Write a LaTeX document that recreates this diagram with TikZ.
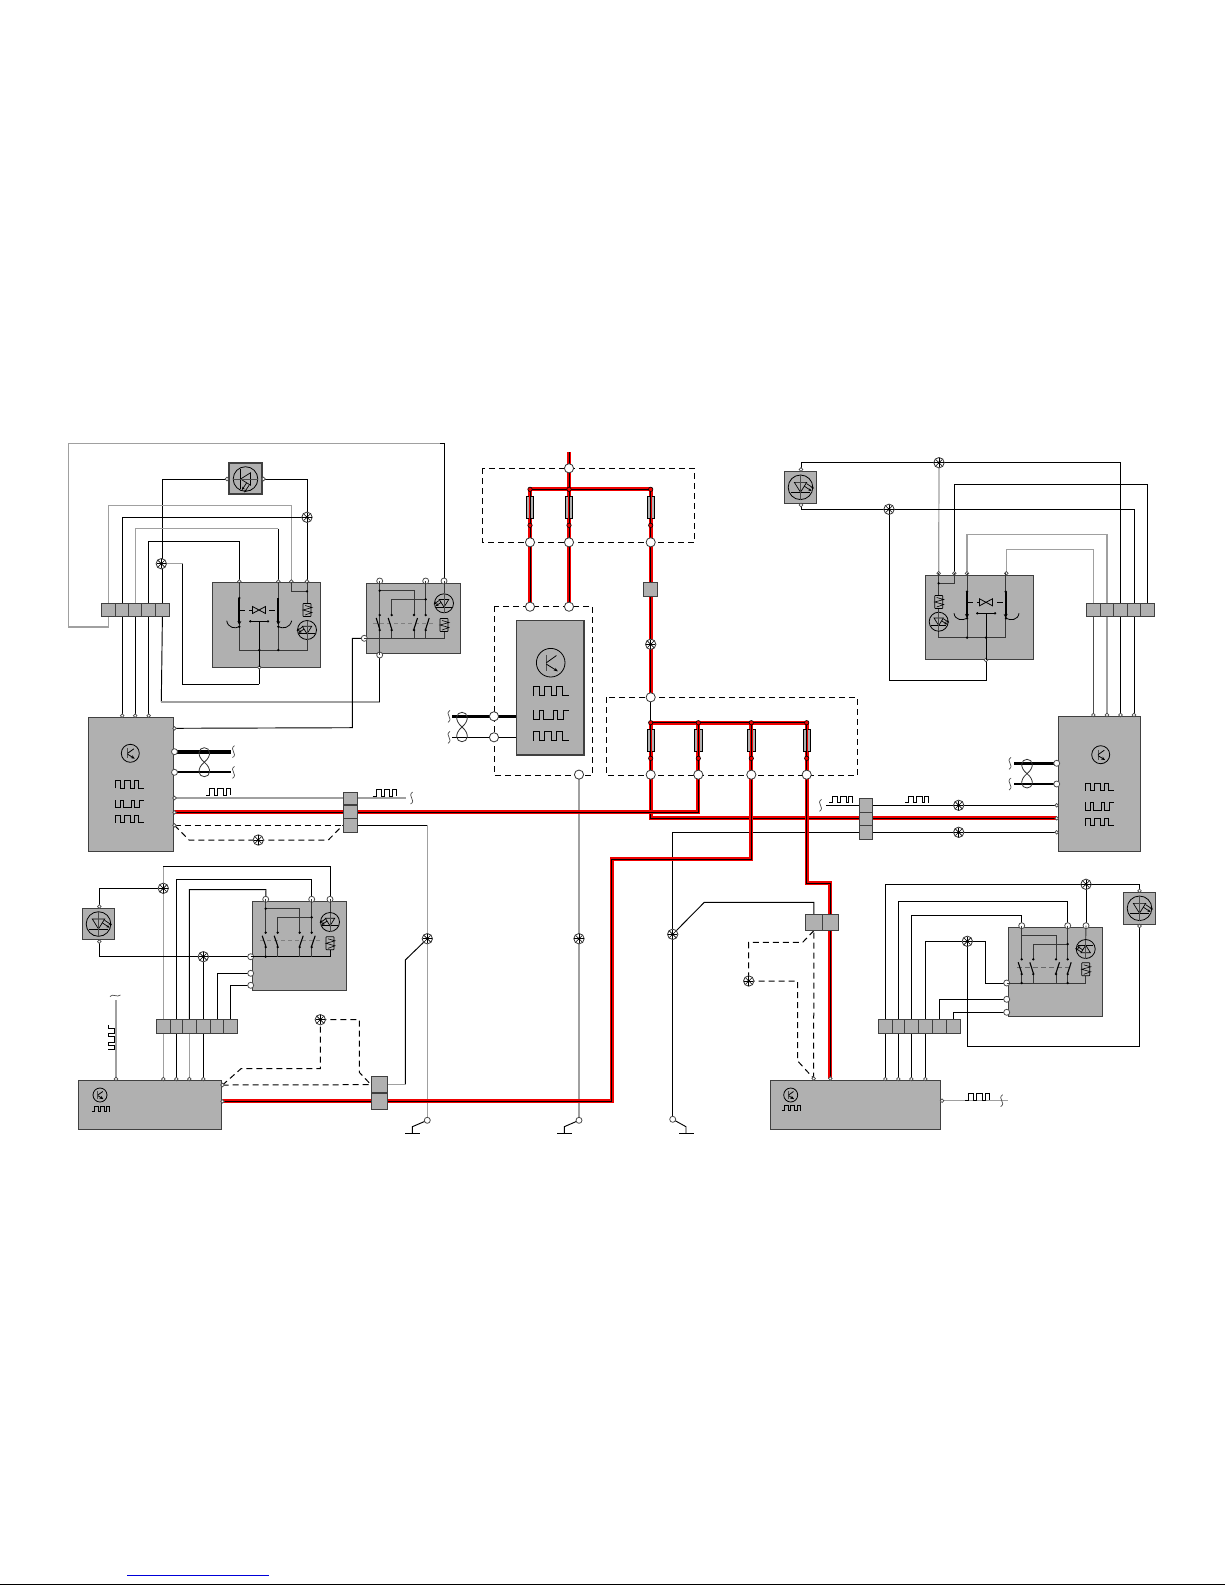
\documentclass[tikz,border=0pt]{standalone}
\usetikzlibrary{arrows.meta,calc}
\pgfdeclarelayer{bg}
\pgfsetlayers{bg,main}
\definecolor{boxg}{HTML}{B0B0B0}
\definecolor{wireg}{HTML}{A0A0A0}
\definecolor{redw}{HTML}{F00000}
\tikzset{
  wb/.style={line width=0.47pt,black},
  wi/.style={line width=0.45pt,black!78},
  wg/.style={line width=0.6pt,wireg},
  wd/.style={line width=0.5pt,black,dash pattern=on 3pt off 2pt},
  wr/.style={line width=2pt,redw},
  wc/.style={line width=0.45pt,black},
  wthick/.style={line width=1.8pt,black},
  wmed/.style={line width=1pt,black},
  sym/.style={line width=0.4pt,black},
  dbox/.style={line width=0.5pt,black,dash pattern=on 3pt off 2pt},
  graybox/.style={draw=black!75,line width=0.55pt,fill=boxg,inner sep=0pt,outer sep=0pt},
  pinS/.style={circle,draw=black!70,fill=white,line width=0.35pt,minimum size=1.8pt,inner sep=0pt},
  pinM/.style={circle,draw=black!70,fill=white,line width=0.4pt,minimum size=3pt,inner sep=0pt},
  pinL/.style={circle,draw=black!80,fill=white,line width=0.4pt,minimum size=4.6pt,inner sep=0pt},
  dotn/.style={circle,fill=black,minimum size=1.3pt,inner sep=0pt},
  rdot/.style={circle,fill=redw,draw=black,line width=0.3pt,minimum size=2.2pt,inner sep=0pt},
  splicen/.style={circle,draw=black!80,fill=white,line width=0.4pt,minimum size=5.2pt,inner sep=0pt},
  fuseb/.style={draw=black,line width=0.45pt,fill=boxg,inner sep=0pt,outer sep=0pt},
}
\newcommand\bx[5]{\pgfmathsetmacro\bxw{(#4-#2)*0.5}\pgfmathsetmacro\bxh{(#5-#3)*0.5}%
  \node[graybox,minimum width=\bxw pt,minimum height=\bxh pt] (#1) at ({(#2+#4)/2},{(#3+#5)/2}) {};}
\newcommand\splice[3]{\node[splicen] (#1) at (#2,#3) {};
  \foreach \a in {0,45,...,315}{\draw[line width=0.3pt] (#1.center)--+(\a:4.6);}
  \node[circle,fill=black,minimum size=1.4pt,inner sep=0pt] at (#1.center) {};}
\newcommand\pinS[3]{\node[pinS] (#1) at (#2,#3) {};}
\newcommand\pinM[3]{\node[pinM] (#1) at (#2,#3) {};}
\newcommand\pinL[3]{\node[pinL] (#1) at (#2,#3) {};}
\newcommand\redwire[1]{\draw[wr] #1; \draw[wc] #1;}
% square waves, w x h box with top-left x,y
\newcommand\wva[4]{\begin{scope}[shift={(#1,#2)},xscale=#3/7,yscale=#4]
  \draw[sym] (0,1)--(0,0)--(1.3,0)--(1.3,1)--(2.3,1)--(2.3,0)--(3.7,0)--(3.7,1)--(4.6,1)--(4.6,0)--(5.7,0)--(5.7,1)--(7,1);\end{scope}}
\newcommand\wvb[4]{\begin{scope}[shift={(#1,#2)},xscale=#3/7,yscale=#4]
  \draw[sym] (0,0)--(0,1)--(1.2,1)--(1.2,0)--(2.1,0)--(2.1,1)--(4,1)--(4,0)--(4.8,0)--(4.8,1)--(6,1)--(6,0)--(7,0);\end{scope}}
\newcommand\wvc[4]{\begin{scope}[shift={(#1,#2)},xscale=#3/7,yscale=#4]
  \draw[line width=0.35pt] (0,1)--(1,1)--(1,0)--(2.5,0)--(2.5,1)--(3.3,1)--(3.3,0)--(5,0)--(5,1)--(5.8,1)--(5.8,0)--(7,0)--(7,1);\end{scope}}
\newcommand\squig[2]{\draw[line width=0.35pt,black!70] (#1+1,#2-6) .. controls (#1-5,#2-2) and (#1+5,#2+2) .. (#1-1,#2+6);}
\newcommand\twist[3]{\draw[line width=0.4pt,black!80] ($(#1,#2)!0.5!(#1,#3)$) .. controls (#1+8,#2+8) and (#1+6,#2) .. (#1,#2) .. controls (#1-6,#2) and (#1-8,#2+8) .. ($(#1,#2)!0.5!(#1,#3)$) .. controls (#1+8,#3-8) and (#1+6,#3) .. (#1,#3) .. controls (#1-6,#3) and (#1-8,#3-8) .. ($(#1,#2)!0.5!(#1,#3)$);}
\newcommand\trans[3]{\begin{scope}[shift={(#1,#2)}]
  \draw[sym] (0,0) circle[radius=#3];
  \begin{scope}[scale=#3/10]
  \draw[line width=0.5pt,black!70] (-3,-5.5)--(-3,5.5);
  \draw[sym] (-3,0)--(4,-5);
  \draw[sym,-{Stealth[length=2pt,width=1.6pt]}] (-3,1)--(5,6);
  \end{scope}\end{scope}}
\newcommand\led[4]{\begin{scope}[shift={(#1,#2)},#4]
  \draw[sym] (0,0) circle[radius=#3];
  \begin{scope}[scale=#3/10]
  \draw[line width=0.35pt] (-5,-4)--(5,-4)--(0,4)--cycle;
  \draw[line width=0.35pt] (-8,4)--(8,4);
  \draw[line width=0.35pt,black!70] (0,-10)--(0,10);
  \draw[line width=0.35pt,-{Stealth[length=1.6pt,width=1.3pt]}] (3,-1)--(9,3);
  \draw[line width=0.35pt,-{Stealth[length=1.6pt,width=1.3pt]}] (5,-3)--(11,1);
  \end{scope}\end{scope}}
\newcommand\coil[2]{\begin{scope}[shift={(#1,#2)}]
  \draw[line width=0.35pt,fill=boxg,rounded corners=0.3pt] (-4,-6.5) rectangle (4,6.5);
  \draw[line width=0.3pt] (-2,-4.5)--(5,-2.5)--(-4,0)--(5,2.5)--(-2,5);
  \end{scope}}
\newcommand\sw[4]{\node[dotn] at (#1,#2) {};
  \node[dotn] at (#1,#3) {};
  \draw[line width=0.55pt,black] (#1+#4*3.5,#2+3)--(#1,#3-1);}
\newcommand\vbow[2]{\draw[sym,fill=boxg] (#1-6.5,#2-3.5)--(#1+6.5,#2+3.5)--(#1+6.5,#2-3.5)--(#1-6.5,#2+3.5)--cycle;}
\begin{document}
\begin{tikzpicture}[x=0.5pt,y=-0.5pt]
\useasboundingbox (0,0) rectangle (1225,1585);
% ---------- footer
\coordinate (ftA) at (127,1575.8); \coordinate (ftB) at (269,1575.8);
\draw[line width=0.55pt,blue!85!black] (ftA)--(ftB);
\coordinate (ftC) at (0,1584.3); \coordinate (ftD) at (1225,1584.3);
\draw[line width=0.7pt,black] (ftC)--(ftD);

% ---------- dashed enclosures
\draw[dbox] (482.3,468.3) rectangle (694.7,542.3);
\draw[dbox] (494.3,606.3) rectangle (592.7,775.3);
\draw[dbox] (606.3,697.3) rectangle (857.7,775.3);

% ---------- gray modules
\bx{ecuA}{88.3}{717.3}{173.3}{851.7}
\bx{ecuB}{1058.3}{716.3}{1140.7}{851.7}
\bx{ecuC}{78.7}{1080.3}{221.7}{1129.3}
\bx{ecuD}{770.3}{1080.3}{940.7}{1129.3}
\bx{cem}{516.3}{620.3}{584}{755}
\bx{swA}{212.7}{582.3}{320.3}{667.3}
\bx{swB}{925.3}{575.3}{1033.7}{659.3}
\bx{wiA}{366.7}{583.3}{460.7}{653.3}
\bx{wiB}{252.7}{901.3}{346.3}{990.3}
\bx{wiC}{1008.7}{927.7}{1102.3}{1016.7}
\bx{ledA}{229}{463}{262}{494}
\bx{ledB}{784.3}{471.3}{816.7}{503.3}
\bx{ledC}{82.3}{908.3}{114.7}{939.7}
\bx{ledD}{1123.3}{892.3}{1155.7}{924.3}
% connector strips
\bx{la}{101.3}{603.3}{115.7}{616.7}\bx{lb}{115.7}{603.3}{128.7}{616.7}\bx{lc}{128.7}{603.3}{141.7}{616.7}\bx{ld}{141.7}{603.3}{155.7}{616.7}\bx{le}{155.7}{603.3}{169.3}{616.7}
\bx{ra}{1086.3}{603.3}{1100.3}{616.7}\bx{rb}{1100.3}{603.3}{1113.7}{616.7}\bx{rc}{1113.7}{603.3}{1127.3}{616.7}\bx{rd}{1127.3}{603.3}{1140.7}{616.7}\bx{re}{1140.7}{603.3}{1154.3}{616.7}
\bx{ma}{156.3}{1019.3}{170.3}{1033.3}\bx{mb}{170.3}{1019.3}{182.3}{1033.3}\bx{mc}{182.3}{1019.3}{196.3}{1033.3}\bx{md}{196.3}{1019.3}{210.3}{1033.3}\bx{me}{210.3}{1019.3}{223.7}{1033.3}\bx{mf}{223.7}{1019.3}{237.7}{1033.3}
\bx{na}{878.3}{1019.3}{892.3}{1033.7}\bx{nb}{892.3}{1019.3}{904.3}{1033.7}\bx{nc}{904.3}{1019.3}{918.3}{1033.7}\bx{nd}{918.3}{1019.3}{932.3}{1033.7}\bx{ne}{932.3}{1019.3}{946.3}{1033.7}\bx{nf}{946.3}{1019.3}{960.7}{1033.7}
\bx{ta}{343.3}{792.3}{357.7}{805}\bx{tb}{343.3}{805}{357.7}{818.3}\bx{tc}{343.3}{818.3}{357.7}{832.3}
\bx{ua}{859.3}{798.3}{872.7}{812.3}\bx{ub}{859.3}{812.3}{872.7}{825.3}\bx{uc}{859.3}{825.3}{872.7}{839.3}
\bx{va}{371.3}{1076.3}{387.7}{1093}\bx{vb}{371.3}{1093}{387.7}{1109.3}
\bx{xa}{805.3}{914.3}{822.3}{930.7}\bx{xb}{822.3}{914.3}{838.7}{930.7}
\bx{ya}{643.3}{582.3}{657.7}{596.7}

% ---------- fuses
\node[fuseb,minimum width=3.7pt,minimum height=11.3pt] (fa) at (530,507.3) {};
\node[fuseb,minimum width=3.7pt,minimum height=11.3pt] (fb) at (569,507.3) {};
\node[fuseb,minimum width=3.7pt,minimum height=11.3pt] (fc) at (650.7,507.3) {};
\node[fuseb,minimum width=3.7pt,minimum height=11.2pt] (fd) at (650.7,740.5) {};
\node[fuseb,minimum width=3.7pt,minimum height=11.2pt] (fe) at (698.3,740.5) {};
\node[fuseb,minimum width=3.7pt,minimum height=11.2pt] (ff) at (751.3,740.5) {};
\node[fuseb,minimum width=3.7pt,minimum height=11.2pt] (fg) at (806.7,740.5) {};
\foreach \n in {fa,fb,fc,fd,fe,ff,fg}{\draw[line width=1.2pt,redw] (\n.north)--(\n.south);\draw[line width=0.45pt,black] (\n.north)--(\n.south);}

% ---------- big pins
\coordinate (supply) at (569,452);
\pinL{t0}{569}{468.3}
\pinL{ba}{530}{542.3}\pinL{bb}{569}{542.3}\pinL{bc}{650.7}{542.3}
\pinL{ca}{530}{606.7}\pinL{cb}{569}{606.7}
\pinL{cc}{494}{716.3}\pinL{cd}{494}{737.3}\pinL{ce}{579}{774.6}
\pinL{da}{650.7}{697.3}
\pinL{ea}{650.7}{774.7}\pinL{eb}{698.3}{774.7}\pinL{ec}{751.3}{774.7}\pinL{ed}{806.7}{774.7}
% red dots on the fuse buses
\node[rdot] (ra1) at (530,489.3) {};\node[rdot] (ra2) at (569,489.3) {};\node[rdot] (ra3) at (650.7,489.3) {};
\node[rdot] (rb1) at (530,525.3) {};\node[rdot] (rb2) at (569,525.3) {};\node[rdot] (rb3) at (650.7,525.3) {};
\node[rdot] (rc1) at (650.7,722.7) {};\node[rdot] (rc2) at (698.3,722.7) {};\node[rdot] (rc3) at (751.3,722.7) {};\node[rdot] (rc4) at (806.7,722.7) {};
\node[rdot] (rd1) at (650.7,758.3) {};\node[rdot] (rd2) at (698.3,758.3) {};\node[rdot] (rd3) at (751.3,758.3) {};\node[rdot] (rd4) at (806.7,758.3) {};

% ---------- small pins
\pinS{lA1}{227}{479}\pinS{lA2}{263.5}{479}
\pinS{sAa}{239.3}{581.5}\pinS{sAb}{278.3}{581.5}\pinS{sAc}{291.3}{581.5}\pinS{sAd}{307}{581.5}\pinS{sAe}{259.3}{667.3}
\pinM{wAa}{379.7}{581}\pinM{wAb}{425.7}{581}\pinM{wAc}{444}{581}\pinM{wAd}{364.3}{638.3}\pinM{wAe}{379.7}{655}
\pinS{eAa}{122.2}{715.7}\pinS{eAb}{135.2}{715.7}\pinS{eAc}{148.7}{715.7}
\pinS{eAd}{174.5}{728.3}\pinM{eAe}{174.5}{751.7}\pinM{eAf}{174.5}{772.3}\pinS{eAg}{174.5}{798}\pinS{eAh}{174.5}{812.3}\pinS{eAi}{174.5}{825.3}
\pinS{lBa}{801}{469.5}\pinS{lBb}{801}{505}
\pinS{sBa}{938.7}{573.3}\pinS{sBb}{954.3}{573.3}\pinS{sBc}{967}{573.3}\pinS{sBd}{1006.3}{573.3}\pinS{sBe}{986}{660}
\pinS{eBa}{1093.3}{715}\pinS{eBb}{1107}{715}\pinS{eBc}{1120.5}{715}\pinS{eBd}{1134}{715}
\pinM{eBe}{1056.7}{763.3}\pinM{eBf}{1056.7}{784}\pinS{eBg}{1056.7}{805.3}\pinS{eBh}{1056.7}{818.3}\pinS{eBi}{1056.7}{832.3}
\pinS{lCa}{99.3}{906.5}\pinS{lCb}{99.3}{941.5}
\pinM{wBa}{265.7}{899.3}\pinM{wBb}{311.7}{899.3}\pinM{wBc}{330}{899.3}\pinM{wBd}{250.7}{956.7}\pinM{wBe}{250.7}{973.3}\pinM{wBf}{250.7}{985.3}
\pinS{eCa}{116}{1079}\pinS{eCb}{163.3}{1079}\pinS{eCc}{176.3}{1079}\pinS{eCd}{189.3}{1079}\pinS{eCe}{203.3}{1079}
\pinS{eCf}{222.5}{1085}\pinS{eCg}{222.5}{1101.3}
\pinS{eDa}{813.7}{1078.5}\pinS{eDb}{830.3}{1078.5}\pinS{eDc}{885.3}{1079}\pinS{eDd}{898.3}{1079}\pinS{eDe}{911.3}{1079}\pinS{eDf}{925.3}{1079}\pinS{eDg}{942}{1100.7}
\pinM{wCa}{1021.7}{925.7}\pinM{wCb}{1067.7}{925.7}\pinM{wCc}{1086}{925.7}\pinM{wCd}{1006.7}{983}\pinM{wCe}{1006.7}{999.3}\pinM{wCf}{1006.7}{1012.3}
\pinS{lDa}{1139.5}{890.8}\pinS{lDb}{1139.5}{926}
\pinM{gA}{427.3}{1120.3}\pinM{gB}{579}{1120.3}\pinM{gC}{672.7}{1119.3}

% ---------- splices
\splice{s1}{307}{517.3}
\splice{s2}{161.3}{563.7}
\splice{s3}{939}{462.7}
\splice{s4}{889}{509.3}
\splice{s5}{650.7}{644.3}
\splice{s6}{958.7}{805.3}
\splice{s7}{958.7}{832.3}
\splice{s8}{258.3}{840}
\splice{s9}{163.3}{888.3}
\splice{s10}{203.3}{956.7}
\splice{s11}{320.3}{1019.7}
\splice{s12}{427.3}{938.7}
\splice{s13}{579}{938.7}
\splice{s14}{672.7}{934.3}
\splice{s15}{748.7}{981}
\splice{s16}{1086}{884.3}
\splice{s17}{967.3}{941.3}

% ---------- wiring, behind everything
\begin{pgfonlayer}{bg}
% top left
\draw[wg] (la.center) |- (68.3,627) |- (440,443.3);
\draw[wb] (440,443.3) -- (444,443.3) -- (wAc.center);
\draw[wb] (lA1.center) -| (le.center);
\draw[wb] (le.center) -- (161.3,702);
\draw[wg] (161.3,702) -- (379.7,702);
\draw[wb] (379.7,702) -- (wAe.center);
\draw[wb] (lA2.center) -| (sAd.center);
\draw[wg] (la.center) |- (291.3,505.7) -- (sAc.center);
\draw[wb] (lb.center) |- (s1.center);
\draw[wb] (lb.center) -- (eAa.center);
\draw[wg] (lc.center) |- (278.3,528.7);
\draw[wb] (278.3,528.7) -- (sAb.center);
\draw[wb] (lc.center) -- (eAb.center);
\draw[wb] (ld.center) |- (239.3,541.7) -- (sAa.center);
\draw[wb] (ld.center) -- (eAc.center);
\draw[wg] (s2.center) -- (182.7,563.7);
\draw[wb] (182.7,563.7) |- (259.3,684.3);
\draw[wb] (sAe.center) -- (259.3,684.3);
\draw[wb] (wAd.center) -| (352.3,727.7) -- (eAd.center);
% left ECU outputs
\draw[wthick] (eAe.center) -- (231,751.7);
\draw[wmed] (eAf.center) -- (231,772.3);
\draw[wg] (eAg.center) -- (406,798);
\draw[wd] (eAi.center) -- (342.7,825.3);
\draw[wd] (eAi.center) -- (189,840) -- (328.3,840) -- (342.7,825.3);
\draw[wb] (tc.center) -- (427.3,825.3);
\draw[wg] (427.3,825.3) -- (gA.center);
% lower left
\draw[wg] (eCb.center) -- (163.3,866.3);
\draw[wb] (163.3,866.3) -| (wBc.center);
\draw[wb] (lCa.center) |- (s9.center);
\draw[wb] (mb.center) |- (311.7,879.3) -- (wBb.center);
\draw[wb] (mb.center) -- (eCc.center);
\draw[wb] (mc.center) |- (266,889.7) -- (wBa.center);
\draw[wg] (mc.center) -- (eCd.center);
\draw[wb] (lCb.center) |- (wBd.center);
\draw[wb] (s10.center) -- (eCe.center);
\draw[wb] (me.center) |- (wBe.center);
\draw[wb] (mf.center) |- (wBf.center);
\draw[wg] (eCa.center) -- (116,1000);
\draw[wd] (eCf.center) -- (va.center);
\draw[wd] (eCf.center) -- (241,1068.7) -| (s11.center);
\draw[wd] (s11.center) -| (359.3,1072.3) -- (371.3,1085);
\draw[wb] (s12.center) -- (405.3,960) -- (405.3,1084.3);
\draw[wg] (405.3,1084.3) -- (387.7,1084.3);
% centre
\draw[wg] (ce.center) -- (gB.center);
\draw[wb] (gA.center) -- (412.3,1126.7) -- (412.3,1133.3);
\draw[wb] (405,1133.3) -- (420,1133.3);
\draw[wb] (gB.center) -- (564.3,1126.7) -- (564.3,1133.3);
\draw[wb] (557,1133.3) -- (572,1133.3);
\draw[wb] (gC.center) -- (686,1126.7) -- (686,1133.3);
\draw[wb] (679.3,1133.3) -- (694,1133.3);
\draw[wthick] (452,716.3) -- (cem.west |- cc);
\draw[wb] (452,737.3) -- (cem.west |- cd);
\draw[wb] (uc.center) -| (gC.center);
\draw[wb] (s14.center) -- (704.3,902.3) -| (xa.center);
% right top
\draw[wb] (lBa.center) |- (s3.center);
\draw[wb] (s3.center) -| (rc.center);
\draw[wb] (rc.center) -- (eBc.center);
\draw[wg] (s3.center) -- (sBa.center);
\draw[wb] (lBb.center) |- (s4.center);
\draw[wb] (s4.center) -| (rd.center);
\draw[wb] (rd.center) -- (eBd.center);
\draw[wb] (s4.center) |- (986,680) -- (sBe.center);
\draw[wb] (sBb.center) |- (1147.5,484.3) -- (re.center);
\draw[wg] (sBc.center) |- (1107,534.3) -- (rb.center);
\draw[wg] (rb.center) -- (eBb.center);
\draw[wg] (sBd.center) |- (1093.3,549.7) -- (ra.center);
\draw[wb,black!70] (ra.center) -- (eBa.center);
\draw[wthick] (eBe.center) -- (1014,763.3);
\draw[wmed] (eBf.center) -- (1014,784);
\draw[wb] (826,805.3) -- (eBg.center);
\draw[wb] (672.7,832.3) -- (eBi.center);
% lower right
\draw[wb] (eDc.center) |- (1139.5,884.3) -- (lDa.center);
\draw[wb] (s16.center) -- (wCc.center);
\draw[wb] (eDd.center) |- (1067.7,901.7) -- (wCb.center);
\draw[wb] (eDe.center) |- (1021.7,915.3) -- (wCa.center);
\draw[wb] (eDf.center) |- (s17.center);
\draw[wb] (s17.center) -| (985.7,983) -- (wCd.center);
\draw[wb] (ne.center) |- (wCe.center);
\draw[wb] (nf.center) |- (wCf.center);
\draw[wb] (s17.center) |- (1139.5,1046) -- (lDb.center);
\draw[wd] (eDa.center) -- (xa.center);
\draw[wd] (xa.south) -- (802.7,942.3) -| (s15.center);
\draw[wd] (s15.center) -| (797.7,1061) -- (eDa.center);
\draw[wg] (eDg.center) -- (1008,1100.7);
% red harness
\redwire{(supply) -- (t0.center)}
\redwire{(t0.center) -- (ra2.center)}
\redwire{(ra1.center) -- (ra3.center)}
\redwire{(ra1.center) -- (ca.center)}
\redwire{(ra2.center) -- (cb.center)}
\redwire{(ra3.center) -- (da.center)}
\draw[wc] (da.center) -- (rc1.center);
\redwire{(rc1.center) -- (rc4.center)}
\redwire{(rc1.center) |- (eBh.center)}
\redwire{(rc2.center) |- (eAh.center)}
\redwire{(rc3.center) |- (611.5,859) |- (eCg.center)}
\redwire{(rc4.center) |- (830.3,883.3) -- (eDb.center)}
\end{pgfonlayer}

% ---------- module interiors
% switch A
\draw[wi] (239.3,581.5)--(239.3,650)--(307,650)--(307,636);
\draw[wi] (278.3,581.5)--(278.3,650);
\draw[wi] (291.3,581.5)--(291.3,591.3)--(307,591.3);
\draw[wi] (307,581.5)--(307,603);
\draw[line width=0.9pt,-{Stealth[length=2pt,width=2pt]}] (239.3,598)--(239.3,625);\draw[line width=0.9pt,-{Stealth[length=2pt,width=2pt]}] (278.3,598)--(278.3,625);
\draw[wd,line width=0.4pt] (239.3,610)--(278.3,610);
\vbow{259}{610}
\draw[sym] (250.3,621.3)--(268,621.3);\draw[sym] (259.3,621.3)--(259.3,667.3);
\draw[sym] (226.7,620.7) .. controls (228,628) and (235,629) .. (239.3,626.7);
\draw[sym] (278.3,626.7) .. controls (283,629) and (290,628) .. (291.7,620.7);
\foreach \p in {(250.3,621.3),(268,621.3),(259.3,650),(278.3,650),(239.3,626.7),(278.3,626.7),(307,591.3),(239.3,598)}{\node[dotn] at \p {};}
\coil{307}{610}
\led{307}{630}{9.5}{xscale=-1}
% switch B
\draw[wi] (938.7,573.3)--(938.7,637.7)--(1005.7,637.7)--(1005.7,573.3);
\draw[wi] (938.7,583.3)--(954.3,583.3)--(954.3,573.3);
\draw[wi] (967,573.3)--(967,637.7);
\draw[line width=0.9pt,-{Stealth[length=2pt,width=2pt]}] (967,591.7)--(967,618);\draw[line width=0.9pt,-{Stealth[length=2pt,width=2pt]}] (1005.7,591.7)--(1005.7,618);
\draw[wd,line width=0.4pt] (967,602.3)--(1005.7,602.3);
\vbow{986}{602.3}
\draw[sym] (977.3,613.3)--(995,613.3);\draw[sym] (986,613.3)--(986,660);
\draw[sym] (954,613.3) .. controls (955,620) and (962,621) .. (967,618.3);
\draw[sym] (1006,618.3) .. controls (1011,621) and (1018,620) .. (1019,613.3);
\foreach \p in {(977.3,613.3),(995,613.3),(986,637.7),(967,637.7),(967,618.3),(1006,618.3),(938.7,583.3),(967,591.7),(1005.7,591.7)}{\node[dotn] at \p {};}
\coil{938.7}{602}
\led{938.7}{621.7}{9.5}{}
% relay module A (upper)
\draw[wi] (wAa.center)--(wAe.center);
\draw[wi] (379.7,590.7)--(414,590.7)--(414,615);
\draw[wi] (391.7,615)--(391.7,599.3)--(425.7,599.3);
\draw[wi] (wAb.center)--(425.7,615);
\draw[wi] (wAd.center)--(444,638.3)--(444,631);
\draw[wi] (391.7,630)--(391.7,638.3);\draw[wi] (414,630)--(414,638.3);\draw[wi] (425.7,630)--(425.7,638.3);
\draw[wi] (wAc.center)--(444,593);
\draw[line width=0.4pt,black!50,dash pattern=on 2pt off 1.5pt] (373,623)--(433,623);
\sw{379.7}{615}{630}{-1}\sw{391.7}{615}{630}{-1}\sw{414}{615}{630}{1}\sw{425.7}{615}{630}{1}
\node[dotn] at (379.7,590.7) {};\node[dotn] at (425.7,599.3) {};
\led{444}{603.3}{9.5}{xscale=-1}
\coil{444}{625}
% relay module B (lower left)
\draw[wi] (wBa.center)--(265.7,932.7);
\draw[wi] (wBb.center)--(311.7,932.7);
\draw[wi] (wBc.center)--(330,912.5);
\draw[wi] (265.7,908.7)--(299.7,908.7)--(299.7,932.7);
\draw[wi] (277.7,932.7)--(277.7,917.3)--(311.7,917.3);
\draw[wb] (wBd.center)--(330,956.7)--(330,950);
\foreach \x in {265.7,277.7,299.7,311.7}{\draw[wi] (\x,947)--(\x,956.7);}
\draw[line width=0.4pt,black!50,dash pattern=on 2pt off 1.5pt] (260,940.7)--(320,940.7);
\sw{265.7}{932.7}{947}{-1}\sw{277.7}{932.7}{947}{-1}\sw{299.7}{932.7}{947}{1}\sw{311.7}{932.7}{947}{1}
\node[dotn] at (265.7,908.7) {};\node[dotn] at (311.7,917.3) {};\node[dotn] at (265.7,956.7) {};
\led{330}{922}{9.5}{xscale=-1}
\coil{330}{943.3}
% relay module C (lower right)
\draw[wi] (wCa.center)--(1021.7,959.3);
\draw[wi] (wCb.center)--(1067.7,959.3);
\draw[wi] (wCc.center)--(1085.7,940);
\draw[wi] (1021.7,935.3)--(1056,935.3)--(1056,959.3);
\draw[wi] (1033.3,959.3)--(1033.3,944)--(1067.7,944);
\draw[wi] (wCd.center)--(1085.7,983)--(1085.7,976);
\foreach \x in {1021.7,1033.3,1056,1067.7}{\draw[wi] (\x,974)--(\x,983);}
\draw[line width=0.4pt,black!60,dash pattern=on 2.5pt off 1.5pt] (1017,967)--(1073,967);
\sw{1021.7}{959.3}{974}{-1}\sw{1033.3}{959.3}{974}{-1}\sw{1056}{959.3}{974}{1}\sw{1067.7}{959.3}{974}{1}
\node[dotn] at (1067.7,944) {};\node[dotn] at (1021.7,983) {};\node[dotn] at (1067.7,983) {};
\led{1085.7}{949}{9.5}{rotate=180}
\coil{1085.7}{969.3}
% separate LEDs
\led{245.5}{479}{12.3}{rotate=-90}
\led{800.5}{487.3}{12.3}{}
\led{98.5}{924}{12.3}{}
\led{1139.5}{908.3}{12.3}{}
% ECU symbols
\trans{130.3}{753.3}{9}
\wva{115}{780}{29}{8.3}\wvb{115}{800}{29}{7.7}\wva{115}{815.3}{29}{7.4}
\trans{1100.7}{754.7}{9}
\wva{1085}{783.3}{29}{7.4}\wvb{1085}{802.3}{29}{8.4}\wva{1085}{818.3}{29}{7.4}
\trans{550.7}{662.7}{14.3}
\wva{533}{686.7}{35.7}{9}\wvb{533}{710}{35.7}{9.3}\wva{533}{731.7}{35.7}{9}
\trans{100}{1095}{7}
\wvc{91.7}{1106.7}{17.3}{5}
\trans{790.7}{1095}{7}
\wvc{781.7}{1105.7}{18.3}{5}
% wire signal labels
\wvc{206}{788.3}{24}{6.7}
\wvc{372.7}{789}{24}{7}
\wvc{829.3}{796.7}{23.4}{6}
\wvc{905.3}{796.7}{23.4}{6}
\wvc{965}{1093}{24.3}{7}
\begin{scope}[shift={(114.3,1025)},rotate=-90]
\wvc{0}{0}{24}{6.3}
\end{scope}
% twists and wire ends
\twist{204.3}{747.7}{776.7}
\twist{462}{712.3}{741.7}
\twist{1027}{759.3}{788}
\squig{233.5}{751.7}\squig{233.5}{772.3}\squig{411.7}{798}
\squig{449}{716.3}\squig{449}{737.3}
\squig{1010}{763.3}\squig{1010}{784}
\squig{820.5}{805.3}\squig{1001.7}{1100.7}
\draw[line width=0.35pt,black!70] (110,996.5) .. controls (113,993) and (117,998) .. (120.5,995);
\end{tikzpicture}
\end{document}
